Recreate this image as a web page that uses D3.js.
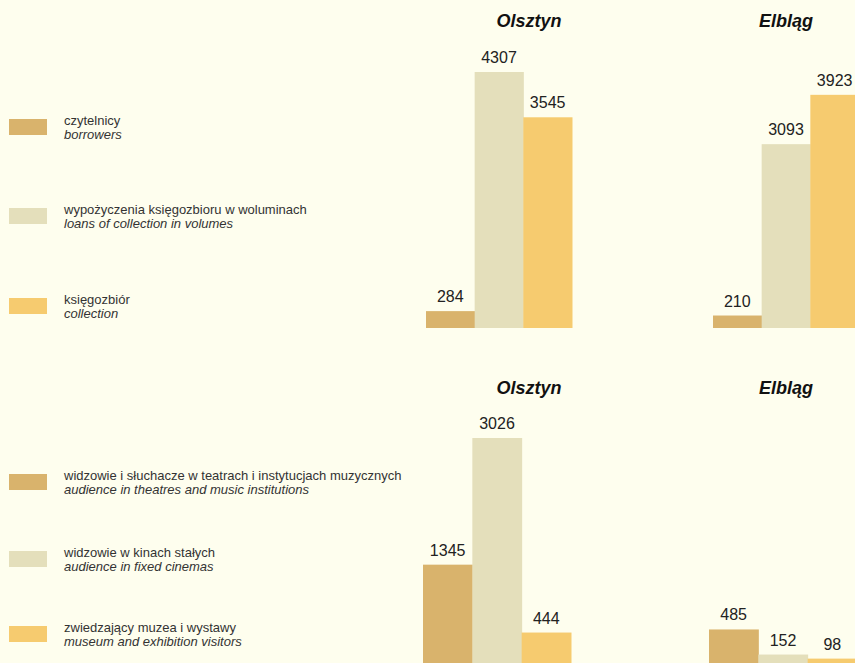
<!DOCTYPE html>
<html>
<head>
<meta charset="utf-8">
<script src="https://cdn.jsdelivr.net/npm/d3@7"></script>
<style>
  body { margin: 0; background: #FEFEEE; }
  svg { display: block; font-family: "Liberation Sans", Arial, sans-serif; }
</style>
</head>
<body>
<script>
// dane
const cities = ["Olsztyn", "Elbląg"];

const libSeriesPl = ["czytelnicy", "wypożyczenia księgozbioru w woluminach", "księgozbiór"];
const libSeriesEn = ["borrowers", "loans of collection in volumes", "collection"];
const libOlsztyn = [284, 4307, 3545];
const libElblag = [210, 3093, 3923];

const cultSeriesPl = ["widzowie i słuchacze w teatrach i instytucjach muzycznych", "widzowie w kinach stałych", "zwiedzający muzea i wystawy"];
const cultSeriesEn = ["audience in theatres and music institutions", "audience in fixed cinemas", "museum and exhibition visitors"];
const cultOlsztyn = [1345, 3026, 444];
const cultElblag = [485, 152, 98];

const colors = ["#D9B36C", "#E4DFBB", "#F6CB6F"];

const width = 855, height = 663;

const svg = d3.select("body").append("svg")
    .attr("width", width)
    .attr("height", height);

svg.append("rect").attr("width", width).attr("height", height).attr("fill", "#FEFEEE");

// rysuje jeden panel: legenda + słupki
function panel(cfg) {
    const g = svg.append("g");
    const data = [cfg.olsztyn, cfg.elblag];

    const x0 = d3.scaleBand()
        .domain(cities)
        .range([cfg.x0, cfg.x0 + cfg.step * cities.length]);
    const x1 = d3.scaleBand()
        .domain(d3.range(3))
        .range([0, cfg.groupW]);
    const y = d3.scaleLinear()
        .domain([0, cfg.maxVal])
        .range([cfg.base, cfg.top]);

    const groups = g.selectAll("g.city")
        .data(cities)
        .enter().append("g")
        .attr("class", "city")
        .attr("transform", d => `translate(${x0(d)},0)`);

    groups.selectAll("rect")
        .data((c, i) => data[i].map((v, k) => ({v, k})))
        .enter().append("rect")
        .attr("x", d => x1(d.k))
        .attr("width", x1.bandwidth() + 0.5)
        .attr("y", d => y(d.v))
        .attr("height", d => cfg.base - y(d.v))
        .attr("fill", d => colors[d.k]);

    groups.selectAll("text.val")
        .data((c, i) => data[i].map((v, k) => ({v, k})))
        .enter().append("text")
        .attr("class", "val")
        .attr("x", d => x1(d.k) + x1.bandwidth() / 2)
        .attr("y", d => y(d.v) - 9)
        .attr("text-anchor", "middle")
        .attr("font-size", 16)
        .attr("fill", "#222")
        .text(d => d.v);

    // tytuły miast
    g.selectAll("text.city")
        .data(cities)
        .enter().append("text")
        .attr("class", "city")
        .attr("x", (d, i) => cfg.titleX[i])
        .attr("y", cfg.titleY)
        .attr("text-anchor", "middle")
        .attr("font-size", 18)
        .attr("font-weight", "bold")
        .attr("font-style", "italic")
        .attr("fill", "#111")
        .text(d => d);

    // legenda
    const leg = g.selectAll("g.leg")
        .data(cfg.pl)
        .enter().append("g")
        .attr("class", "leg")
        .attr("transform", (d, i) => `translate(0,${cfg.legY[i]})`);

    leg.append("rect")
        .attr("x", 9).attr("y", 0)
        .attr("width", 38).attr("height", 16)
        .attr("fill", (d, i) => colors[i]);

    leg.append("text")
        .attr("x", 64).attr("y", 6)
        .attr("font-size", 13)
        .attr("fill", "#333")
        .text(d => d);

    leg.append("text")
        .attr("x", 64).attr("y", 20)
        .attr("font-size", 13)
        .attr("font-style", "italic")
        .attr("fill", "#333")
        .text((d, i) => cfg.en[i]);
}

panel({
    olsztyn: libOlsztyn, elblag: libElblag,
    pl: libSeriesPl, en: libSeriesEn,
    x0: 426, step: 287, groupW: 146,
    base: 328, top: 72, maxVal: 4307,
    titleX: [529, 786], titleY: 27,
    legY: [119, 208, 298]
});

panel({
    olsztyn: cultOlsztyn, elblag: cultElblag,
    pl: cultSeriesPl, en: cultSeriesEn,
    x0: 423, step: 286, groupW: 148,
    base: 666, top: 438, maxVal: 3026,
    titleX: [529, 786], titleY: 394,
    legY: [474, 551, 626]
});
</script>
</body>
</html>
